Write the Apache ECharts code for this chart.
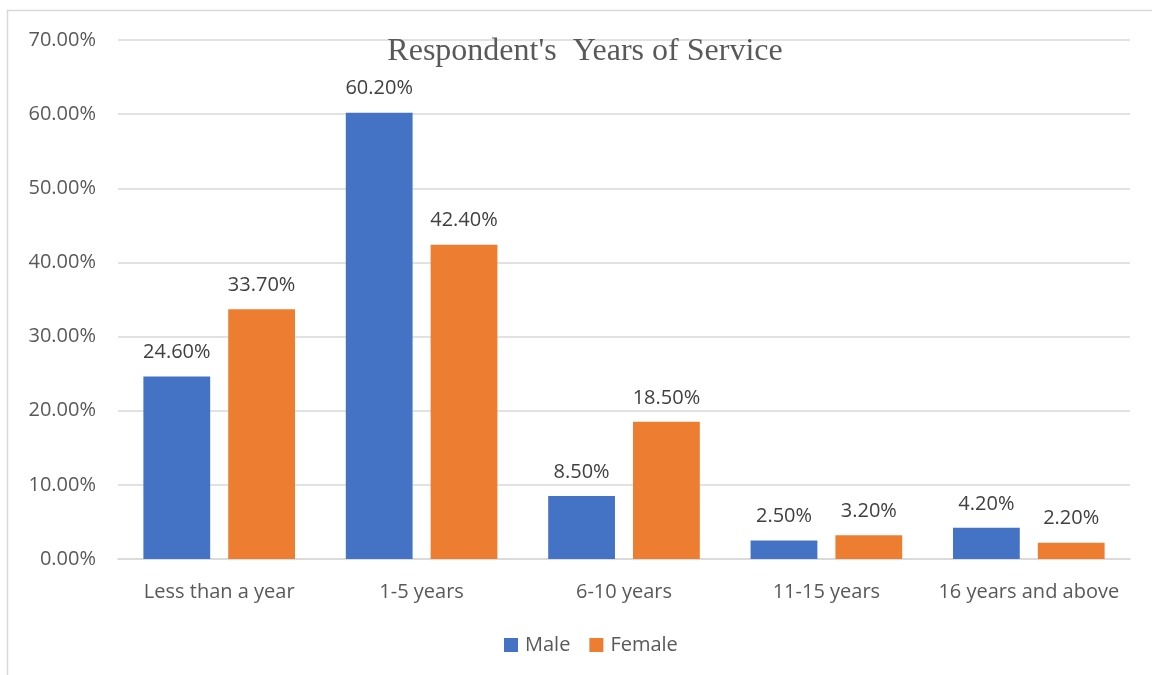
<!DOCTYPE html>
<html>
<head>
<meta charset="utf-8">
<script src="https://cdn.jsdelivr.net/npm/echarts@6/dist/echarts.min.js"></script>
<style>
html,body{margin:0;padding:0;background:#fff;}
#chart{width:1152px;height:675px;}
</style>
</head>
<body>
<div id="chart"></div>
<script>
var categories = ['Less than a year', '1-5 years', '6-10 years', '11-15 years', '16 years and above'];
var maleValues = [24.6, 60.2, 8.5, 2.5, 4.2];
var femaleValues = [33.7, 42.4, 18.5, 3.2, 2.2];
var seriesNames = ['Male', 'Female'];
var titleText = "Respondent's  Years of Service";

var chart = echarts.init(document.getElementById('chart'));
var labelFont = 'Open Sans, Noto Sans, sans-serif';
var fs = 20;
function pct(v){ return v.toFixed(2) + '%'; }
chart.setOption({
  backgroundColor: '#fff',
  animation: false,
  graphic: [{
    type: 'rect',
    shape: { x: 7.5, y: 10.5, width: 1160, height: 680 },
    style: { fill: 'none', stroke: '#d9d9d9', lineWidth: 1.5 },
    silent: true
  }],
  title: {
    text: titleText,
    left: 580, top: 31, textAlign: 'center',
    textStyle: { fontFamily: 'Liberation Serif, serif', fontSize: 32, fontWeight: 'normal', color: '#595959' }
  },
  legend: {
    data: seriesNames,
    left: 499, top: 630, itemWidth: 14, itemHeight: 14, itemGap: 19,
    icon: 'rect',
    textStyle: { fontFamily: labelFont, fontSize: fs, color: '#595959', padding: [0, 0, 0, 2] }
  },
  grid: { left: 118, right: 22, top: 40, bottom: 116, containLabel: false },
  xAxis: {
    type: 'category', data: categories,
    axisLine: { lineStyle: { color: '#d9d9d9', width: 1.5 } },
    axisTick: { show: false },
    axisLabel: { interval: 0, fontFamily: labelFont, fontSize: fs, color: '#595959', margin: 23 }
  },
  yAxis: {
    type: 'value', min: 0, max: 70, interval: 10,
    axisLine: { show: false }, axisTick: { show: false },
    splitLine: { lineStyle: { color: '#d9d9d9', width: 1.5 } },
    axisLabel: { fontFamily: labelFont, fontSize: fs, color: '#595959', margin: 22, formatter: function(v){ return pct(v); } }
  },
  series: [
    { name: seriesNames[0], type: 'bar', data: maleValues, barWidth: '33%', barGap: '27%',
      itemStyle: { color: '#4472C4' },
      label: { show: true, position: 'top', distance: 14, fontFamily: labelFont, fontSize: fs, color: '#404040', formatter: function(p){ return pct(p.value); } } },
    { name: seriesNames[1], type: 'bar', data: femaleValues, barWidth: '33%',
      itemStyle: { color: '#ED7D31' },
      label: { show: true, position: 'top', distance: 14, fontFamily: labelFont, fontSize: fs, color: '#404040', formatter: function(p){ return pct(p.value); } } }
  ]
});
</script>
</body>
</html>
